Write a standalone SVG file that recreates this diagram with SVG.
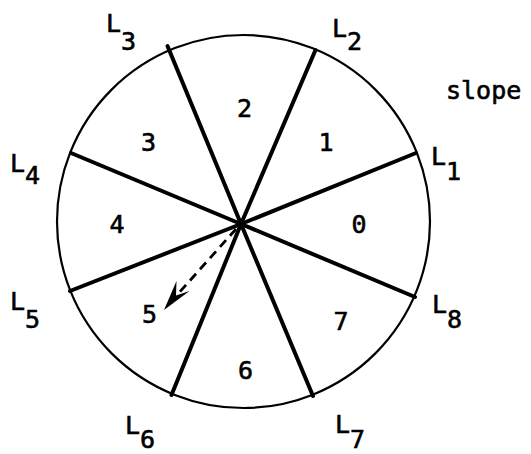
<svg xmlns="http://www.w3.org/2000/svg" width="531" height="454" viewBox="0 0 531 454">
<style>
.t{font-family:"DejaVu Sans Mono","Liberation Mono",monospace;font-size:25px;fill:#000;stroke:#000;stroke-width:0.6}
.ray{stroke:#000;stroke-width:4;stroke-linecap:round;fill:none}
</style>
<rect width="531" height="454" fill="#fff"/>
<g id="circle"><circle cx="243.5" cy="221.5" r="186.5" fill="none" stroke="#000" stroke-width="2.2"/></g>
<g id="connectors">
<line class="ray" x1="241" y1="224" x2="416" y2="153" stroke-width="5"/>
<line class="ray" x1="241" y1="224" x2="315.5" y2="50"/>
<line class="ray" x1="241" y1="224" x2="167.5" y2="46"/>
<line class="ray" x1="241" y1="224" x2="71" y2="153"/>
<line class="ray" x1="241" y1="224" x2="70" y2="291"/>
<line class="ray" x1="241" y1="224" x2="171.5" y2="395"/>
<line class="ray" x1="241" y1="224" x2="313" y2="396"/>
<line class="ray" x1="241" y1="224" x2="415" y2="297"/>
<line x1="236" y1="229" x2="177" y2="295" stroke="#000" stroke-width="2.8" stroke-dasharray="9 6"/>
<polygon points="164,310 176.5,281 176,295.5 189.5,291" fill="#000"/>
</g>
<g id="sector0"><text class="t" x="359" y="233" text-anchor="middle">0</text></g>
<g id="sector1"><text class="t" x="326" y="151" text-anchor="middle">1</text></g>
<g id="sector2"><text class="t" x="244.5" y="117" text-anchor="middle">2</text></g>
<g id="sector3"><text class="t" x="148.5" y="151" text-anchor="middle">3</text></g>
<g id="sector4"><text class="t" x="117" y="233" text-anchor="middle">4</text></g>
<g id="sector5"><text class="t" x="149.5" y="323" text-anchor="middle">5</text></g>
<g id="sector6"><text class="t" x="245.5" y="379" text-anchor="middle">6</text></g>
<g id="sector7"><text class="t" x="341" y="330" text-anchor="middle">7</text></g>
<g id="label-L1"><text class="t" x="431" y="165">L<tspan dy="15">1</tspan></text></g>
<g id="label-L2"><text class="t" x="332" y="37">L<tspan dy="13">2</tspan></text></g>
<g id="label-L3"><text class="t" x="106" y="32">L<tspan dy="18">3</tspan></text></g>
<g id="label-L4"><text class="t" x="10" y="172">L<tspan dy="12">4</tspan></text></g>
<g id="label-L5"><text class="t" x="10" y="310">L<tspan dy="18">5</tspan></text></g>
<g id="label-L6"><text class="t" x="125" y="434">L<tspan dy="14">6</tspan></text></g>
<g id="label-L7"><text class="t" x="335" y="433">L<tspan dy="15">7</tspan></text></g>
<g id="label-L8"><text class="t" x="432" y="313">L<tspan dy="15">8</tspan></text></g>
<g id="label-slope"><text class="t" x="446" y="99">slope</text></g>
</svg>
